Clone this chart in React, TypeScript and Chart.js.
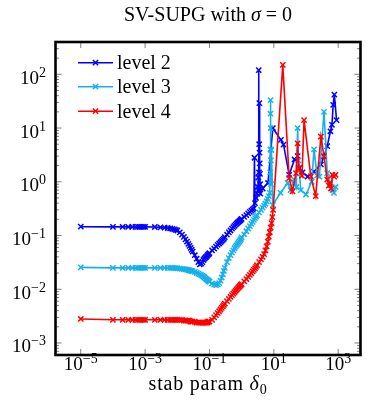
import React, { useEffect, useRef } from "react";
import { Chart, registerables } from "chart.js";

Chart.register(...registerables);

// Shared sampling of the stabilisation parameter delta_0 (smooth part)
const deltaGrid = [
  1e-5, 1e-4, 2e-4, 3e-4, 4e-4, 5e-4, 6e-4, 7e-4, 8e-4, 9e-4,
  1e-3, 2e-3, 3e-3, 4e-3, 5e-3, 6e-3, 7e-3, 8e-3, 9e-3,
  0.01, 0.012, 0.014, 0.016, 0.018, 0.02, 0.022, 0.024, 0.026, 0.028, 0.03,
  0.035, 0.04, 0.045, 0.05, 0.055, 0.06, 0.065, 0.07, 0.075, 0.08, 0.085, 0.09, 0.095,
  0.1, 0.12, 0.14, 0.16, 0.18, 0.2, 0.22, 0.24, 0.26, 0.28, 0.3,
  0.35, 0.4, 0.45, 0.5, 0.55, 0.6, 0.65, 0.7, 0.75, 0.8, 0.85, 0.9, 0.95,
  1.0, 1.2, 1.4, 1.6, 1.8, 2.0, 2.2, 2.4,
  2.6, 2.8, 3.0, 3.5, 4.0, 4.5, 5.0, 5.5, 6.0, 6.5, 7.0, 7.5, 8.0, 8.5, 9.0, 9.5,
];

// level 2
const level2Smooth = [
  0.146, 0.145, 0.145, 0.145, 0.145, 0.145, 0.145, 0.145, 0.145, 0.145,
  0.145, 0.144, 0.142, 0.14, 0.138, 0.136, 0.133, 0.13, 0.127,
  0.124, 0.114, 0.104, 0.094, 0.085, 0.077, 0.07, 0.064, 0.059, 0.054, 0.05,
  0.043, 0.037, 0.032, 0.029, 0.03, 0.032, 0.035, 0.037, 0.039, 0.04, 0.042, 0.044, 0.045,
  0.047, 0.053, 0.057, 0.062, 0.067, 0.071, 0.075, 0.079, 0.083, 0.087, 0.093,
  0.104, 0.114, 0.124, 0.134, 0.143, 0.151, 0.159, 0.166, 0.173, 0.18, 0.186, 0.192, 0.198,
  0.204, 0.222, 0.24, 0.258, 0.275, 0.29, 0.305, 0.32,
];
const level2TailX = [
  2.5, 2.6, 2.8, 3.0, 3.2, 3.3, 3.35, 3.4, 3.45, 3.5, 3.55, 3.6, 3.65, 3.7, 3.75, 3.8,
  4.5, 6.6, 9.3, 16.6, 20, 30, 44, 55, 62, 78, 112, 178, 290, 363, 457, 575, 640, 700, 760, 890,
];
const level2TailY = [
  2.8, 0.4, 0.5, 0.6, 0.8, 1.2, 0.7, 120, 1.5, 5.0, 29, 3.5, 2.2, 1.4, 0.9, 0.6,
  0.75, 0.95, 10, 6, 4.9, 1.35, 2.6, 3.0, 1.8, 1.5, 1.25, 1.55, 2.1, 2.95, 4.6, 8.7, 11.5, 27, 42, 14,
];

// level 3
const level3Smooth = [
  0.0255, 0.025, 0.025, 0.025, 0.025, 0.025, 0.025, 0.025, 0.025, 0.025,
  0.025, 0.025, 0.025, 0.025, 0.025, 0.025, 0.0249, 0.0248, 0.0247,
  0.0246, 0.0243, 0.024, 0.0237, 0.0234, 0.0231, 0.0228, 0.0225, 0.0222, 0.0219, 0.0216,
  0.021, 0.0203, 0.0196, 0.019, 0.0184, 0.0178, 0.0172, 0.0166, 0.016, 0.0155, 0.015, 0.0146, 0.0142,
  0.0138, 0.0128, 0.0122, 0.012, 0.0123, 0.013, 0.0145, 0.0165, 0.019, 0.022, 0.025,
  0.032, 0.038, 0.043, 0.048, 0.053, 0.058, 0.062, 0.066, 0.07, 0.074, 0.078, 0.082, 0.086,
  0.092, 0.105, 0.12, 0.135, 0.15, 0.165, 0.18, 0.195,
  0.21, 0.225, 0.24, 0.27, 0.3, 0.33, 0.36, 0.39, 0.43, 0.48, 0.54, 0.62,
];
const level3TailX = [
  7.7, 7.8, 7.85, 7.9, 8.0, 8.1, 8.2, 8.4, 9.3, 16, 27, 33, 42, 50, 55, 58, 69, 100,
  150, 178, 220, 260, 363, 457, 575, 660, 741, 830,
];
const level3TailY = [
  1.5, 4.0, 18.5, 33, 10, 2.5, 0.9, 3.9, 0.37, 0.62, 0.95, 0.7, 1.1, 0.8, 10, 2.5, 0.7, 0.58,
  1.0, 4.0, 1.3, 1.25, 20, 1.45, 0.87, 0.7, 0.62, 0.8,
];

// level 4
const level4Smooth = [
  0.0028, 0.0027, 0.0027, 0.0027, 0.0027, 0.0027, 0.0027, 0.0027, 0.0027, 0.0027,
  0.0027, 0.0027, 0.0027, 0.0027, 0.0027, 0.0027, 0.0027, 0.0027, 0.0027,
  0.0027, 0.0027, 0.0027, 0.0026, 0.0026, 0.0026, 0.0026, 0.0026, 0.0025, 0.0025, 0.0025,
  0.0025, 0.0024, 0.0024, 0.0024, 0.0024, 0.0024, 0.0024, 0.0024, 0.0024, 0.0024, 0.0024, 0.0025, 0.0025,
  0.0025, 0.0027, 0.003, 0.0033, 0.0036, 0.0039, 0.0042, 0.0045, 0.0048, 0.0051, 0.0054,
  0.006, 0.0066, 0.0072, 0.0078, 0.0083, 0.0088, 0.0093, 0.0098, 0.0103, 0.0108, 0.0112, 0.0117, 0.0121,
  0.0125, 0.014, 0.0155, 0.017, 0.0185, 0.02, 0.0215, 0.023,
  0.0245, 0.026, 0.028, 0.032, 0.036, 0.04, 0.045, 0.053, 0.063, 0.077, 0.095, 0.115, 0.14, 0.17, 0.22, 0.3,
];
const level4TailX = [
  19, 30, 38, 49, 55, 59, 75, 87, 141, 200, 290, 363, 457, 510, 560, 600, 660, 750, 830,
];
const level4TailY = [
  150, 1.17, 0.66, 1.45, 5.2, 1.8, 1.3, 14, 1.26, 0.54, 6.9, 3.0, 1.1, 0.85, 0.95, 0.75, 1.35, 1.25, 1.35,
];

const seriesNames = ["level 2", "level 3", "level 4"];
const seriesColors = ["#0000ff", "#16b1ec", "#ff0000"];
const xTickExponents = [-5, -3, -1, 1, 3];
const yTickExponents = [-3, -2, -1, 0, 1, 2];
const yMinorDecades = [-4, -3, -2, -1, 0, 1, 2];
const minorMultipliers = [2, 3, 4, 5, 6, 7, 8, 9];

const X_MIN = 1.64e-6;
const X_MAX = 4940;
const Y_MIN = 5.98e-4;
const Y_MAX = 399;

const SERIF = '"Liberation Serif", "Times New Roman", serif';

type Run = { text: string; size: number; italic?: boolean; dy?: number };

function fontOf(r: Run) {
  return `${r.italic ? "italic " : ""}${r.size}px ${SERIF}`;
}

function drawRuns(
  ctx: CanvasRenderingContext2D,
  runs: Run[],
  x: number,
  y: number,
  align: "left" | "center" | "right",
  spacing = 0
) {
  const anyCtx = ctx as any;
  anyCtx.letterSpacing = `${spacing}px`;
  const widths = runs.map((r) => {
    ctx.font = fontOf(r);
    return ctx.measureText(r.text).width;
  });
  const total = widths.reduce((a, b) => a + b, 0);
  let cx = align === "center" ? x - total / 2 : align === "right" ? x - total : x;
  ctx.textAlign = "left";
  ctx.textBaseline = "alphabetic";
  runs.forEach((r, i) => {
    ctx.font = fontOf(r);
    ctx.fillText(r.text, cx, y + (r.dy || 0));
    cx += widths[i];
  });
  anyCtx.letterSpacing = "0px";
}

function expLabel(e: number): Run[] {
  const s = e < 0 ? `\u2212${-e}` : `${e}`;
  return [
    { text: "10", size: 19 },
    { text: s, size: 14, dy: -7 },
  ];
}

function buildPoints(smooth: number[], tailX: number[], tailY: number[]) {
  const pts = smooth.map((v, i) => ({ x: deltaGrid[i], y: v }));
  tailX.forEach((x, i) => pts.push({ x, y: tailY[i] }));
  return pts;
}

const decorPlugin = {
  id: "decor",
  afterDraw(chart: any) {
    const { ctx, chartArea: a, scales } = chart;
    const xs = scales.x;
    const ys = scales.y;
    ctx.save();
    // tick marks
    ctx.strokeStyle = "rgba(0,0,0,0.5)";
    ctx.lineWidth = 1;
    ctx.beginPath();
    yTickExponents.forEach((e) => {
      const py = ys.getPixelForValue(Math.pow(10, e));
      ctx.moveTo(a.left, py);
      ctx.lineTo(a.left + 6, py);
      ctx.moveTo(a.right, py);
      ctx.lineTo(a.right - 6, py);
    });
    yMinorDecades.forEach((d) => {
      minorMultipliers.forEach((k) => {
        const v = k * Math.pow(10, d);
        if (v <= Y_MIN || v >= Y_MAX) return;
        const py = ys.getPixelForValue(v);
        ctx.moveTo(a.left, py);
        ctx.lineTo(a.left + 3.5, py);
        ctx.moveTo(a.right, py);
        ctx.lineTo(a.right - 3.5, py);
      });
    });
    xTickExponents.forEach((e) => {
      const px = xs.getPixelForValue(Math.pow(10, e));
      ctx.moveTo(px, a.bottom);
      ctx.lineTo(px, a.bottom - 6);
      ctx.moveTo(px, a.top);
      ctx.lineTo(px, a.top + 6);
    });
    ctx.stroke();

    // frame
    ctx.strokeStyle = "#000";
    ctx.lineWidth = 2.6;
    ctx.strokeRect(a.left, a.top, a.right - a.left, a.bottom - a.top);

    ctx.fillStyle = "#000";
    // tick labels
    yTickExponents.forEach((e) => {
      const py = ys.getPixelForValue(Math.pow(10, e));
      drawRuns(ctx, expLabel(e), a.left - 9.5, py + 9.5, "right");
    });
    xTickExponents.forEach((e) => {
      const px = xs.getPixelForValue(Math.pow(10, e));
      drawRuns(ctx, expLabel(e), px, 370, "center");
    });

    const cx = (a.left + a.right) / 2;
    // title
    drawRuns(
      ctx,
      [
        { text: "SV-SUPG with ", size: 20 },
        { text: "\u03C3", size: 20, italic: true },
        { text: " = 0", size: 20 },
      ],
      cx,
      20.5,
      "center"
    );
    // x axis label
    drawRuns(
      ctx,
      [
        { text: "stab param ", size: 20 },
        { text: "\u03B4", size: 20, italic: true },
        { text: "0", size: 14, dy: 4 },
      ],
      cx,
      390,
      "center",
      0.8
    );

    // legend
    const rows = [62.7, 86.7, 111.2];
    seriesNames.forEach((name, i) => {
      const y = rows[i];
      ctx.strokeStyle = seriesColors[i];
      ctx.lineWidth = 1.6;
      ctx.beginPath();
      ctx.moveTo(78, y);
      ctx.lineTo(113, y);
      ctx.stroke();
      const r = 3.7 * Math.SQRT1_2;
      ctx.lineWidth = 1.5;
      ctx.beginPath();
      ctx.moveTo(95.5 - r, y - r);
      ctx.lineTo(95.5 + r, y + r);
      ctx.moveTo(95.5 - r, y + r);
      ctx.lineTo(95.5 + r, y - r);
      ctx.stroke();
      ctx.fillStyle = "#000";
      drawRuns(ctx, [{ text: name, size: 20 }], 117, y + 6.5, "left");
    });
    ctx.restore();
  },
};

export default function App() {
  const ref = useRef<HTMLCanvasElement>(null);
  useEffect(() => {
    const series = [
      buildPoints(level2Smooth, level2TailX, level2TailY),
      buildPoints(level3Smooth, level3TailX, level3TailY),
      buildPoints(level4Smooth, level4TailX, level4TailY),
    ];
    const fixRange = (min: number, max: number) => (scale: any) => {
      scale.min = min;
      scale.max = max;
    };
    const chart = new Chart(ref.current!, {
      type: "line",
      data: {
        datasets: series.map((data, i) => ({
          label: seriesNames[i],
          data,
          borderColor: seriesColors[i],
          backgroundColor: seriesColors[i],
          pointBorderColor: seriesColors[i],
          pointBackgroundColor: seriesColors[i],
          borderWidth: 1.6,
          pointStyle: "crossRot",
          pointRadius: 3.7,
          pointBorderWidth: 1.5,
          tension: 0,
          fill: false,
          order: 2 - i,
        })),
      },
      options: {
        animation: false,
        responsive: true,
        maintainAspectRatio: false,
        layout: { padding: { left: 55.5, right: 3, top: 42, bottom: 56 } },
        scales: {
          x: {
            type: "logarithmic",
            display: false,
            min: X_MIN,
            max: X_MAX,
            bounds: "data",
            afterBuildTicks: fixRange(X_MIN, X_MAX),
          },
          y: {
            type: "logarithmic",
            display: false,
            min: Y_MIN,
            max: Y_MAX,
            bounds: "data",
            afterBuildTicks: fixRange(Y_MIN, Y_MAX),
          },
        },
        plugins: {
          legend: { display: false },
          tooltip: { enabled: false },
          title: { display: false },
        },
      } as any,
      plugins: [decorPlugin],
    });
    return () => chart.destroy();
  }, []);
  return (
    <div
      style={{
        position: "fixed",
        left: 0,
        top: 0,
        width: 366,
        height: 411,
        background: "#fff",
      }}
    >
      <canvas ref={ref} />
    </div>
  );
}
